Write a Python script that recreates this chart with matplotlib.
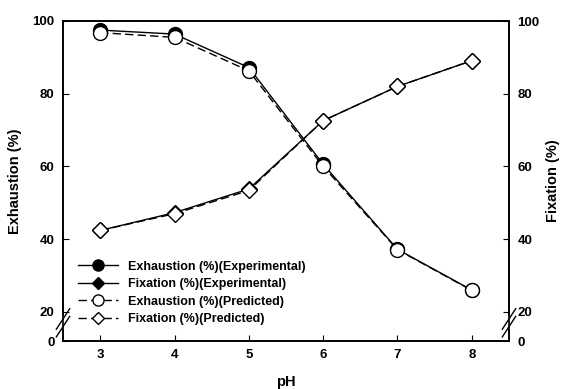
import numpy as np
import matplotlib.pyplot as plt

plt.rcParams['font.family'] = ['Liberation Sans', 'DejaVu Sans']
plt.rcParams['font.weight'] = 'bold'

ph = [3, 4, 5, 6, 7, 8]
exh_exp = [97.5, 96.4, 87.2, 60.6, 37.2, 26.0]
fix_exp = [42.4, 47.3, 53.8, 72.6, 82.0, 89.1]
exh_pred = [96.8, 95.5, 86.3, 60.0, 37.1, 25.9]
fix_pred = [42.4, 47.0, 53.4, 72.6, 82.0, 89.1]

yticks = [20, 40, 60, 80, 100]
y0 = 12  # where "0" sits below the axis break

fig = plt.figure(figsize=(5.65, 3.89), dpi=100)
ax = fig.add_axes([63/565, 1-341/389, 446/565, 320/389])

ax.plot(ph, exh_exp, '-', color='k', lw=1, marker='o', ms=10, mfc='k', mec='k',
        label='Exhaustion (%)(Experimental)')
ax.plot(ph, fix_exp, '-', color='k', lw=1, marker='D', ms=8, mfc='k', mec='k',
        label='Fixation (%)(Experimental)')
ax.plot(ph, exh_pred, '--', color='k', lw=1, marker='o', ms=10, mfc='white', mec='k',
        dashes=(6, 3), label='Exhaustion (%)(Predicted)')
ax.plot(ph, fix_pred, '--', color='k', lw=1, marker='D', ms=8, mfc='white', mec='k',
        dashes=(6, 3), label='Fixation (%)(Predicted)')

ax.set_xlim(2.5, 8.5)
ax.set_ylim(y0, 100)
ax.set_xticks(ph)
ax.set_yticks([y0] + yticks)
ax.set_yticklabels(['0'] + [str(v) for v in yticks])
ax.tick_params(direction='in', length=4, labelsize=9.5, pad=6)

ax2 = ax.twinx()
ax2.set_ylim(y0, 100)
ax2.set_yticks([y0] + yticks)
ax2.set_yticklabels(['0'] + [str(v) for v in yticks])
ax2.tick_params(direction='in', length=4, labelsize=9.5, pad=6)
ax2.set_ylabel('Fixation (%)', fontsize=10.5, fontweight='bold')
ax2.yaxis.set_label_coords((546-63)/446, 0.5)

ax.set_ylabel('Exhaustion (%)', fontsize=10.5, fontweight='bold')
ax.yaxis.set_label_coords((22-63)/446, 0.5)
ax.set_xlabel('pH', fontsize=10.5, fontweight='bold')
ax.xaxis.set_label_coords(0.5, (341-375)/320)

for a in (ax, ax2):
    for s in a.spines.values():
        s.set_linewidth(1.2)

# axis break marks on both sides
yb = (17 - y0) / (100 - y0)
for xs in (0, 1):
    ax.plot([xs, xs], [yb - 0.014, yb + 0.014], color='white', lw=3,
            transform=ax.transAxes, clip_on=False, zorder=5)
    for d in (-0.012, 0.012):
        ax.plot([xs - 0.015, xs + 0.015], [yb + d - 0.032, yb + d + 0.032], color='k',
                lw=1, transform=ax.transAxes, clip_on=False, zorder=6)

ax.legend(loc='lower left', bbox_to_anchor=(0.013, 0.022), frameon=False,
          fontsize=9, handlelength=3.2, labelspacing=0.44, borderpad=0.2,
          markerscale=0.8)

fig.savefig('out.png', dpi=100)
